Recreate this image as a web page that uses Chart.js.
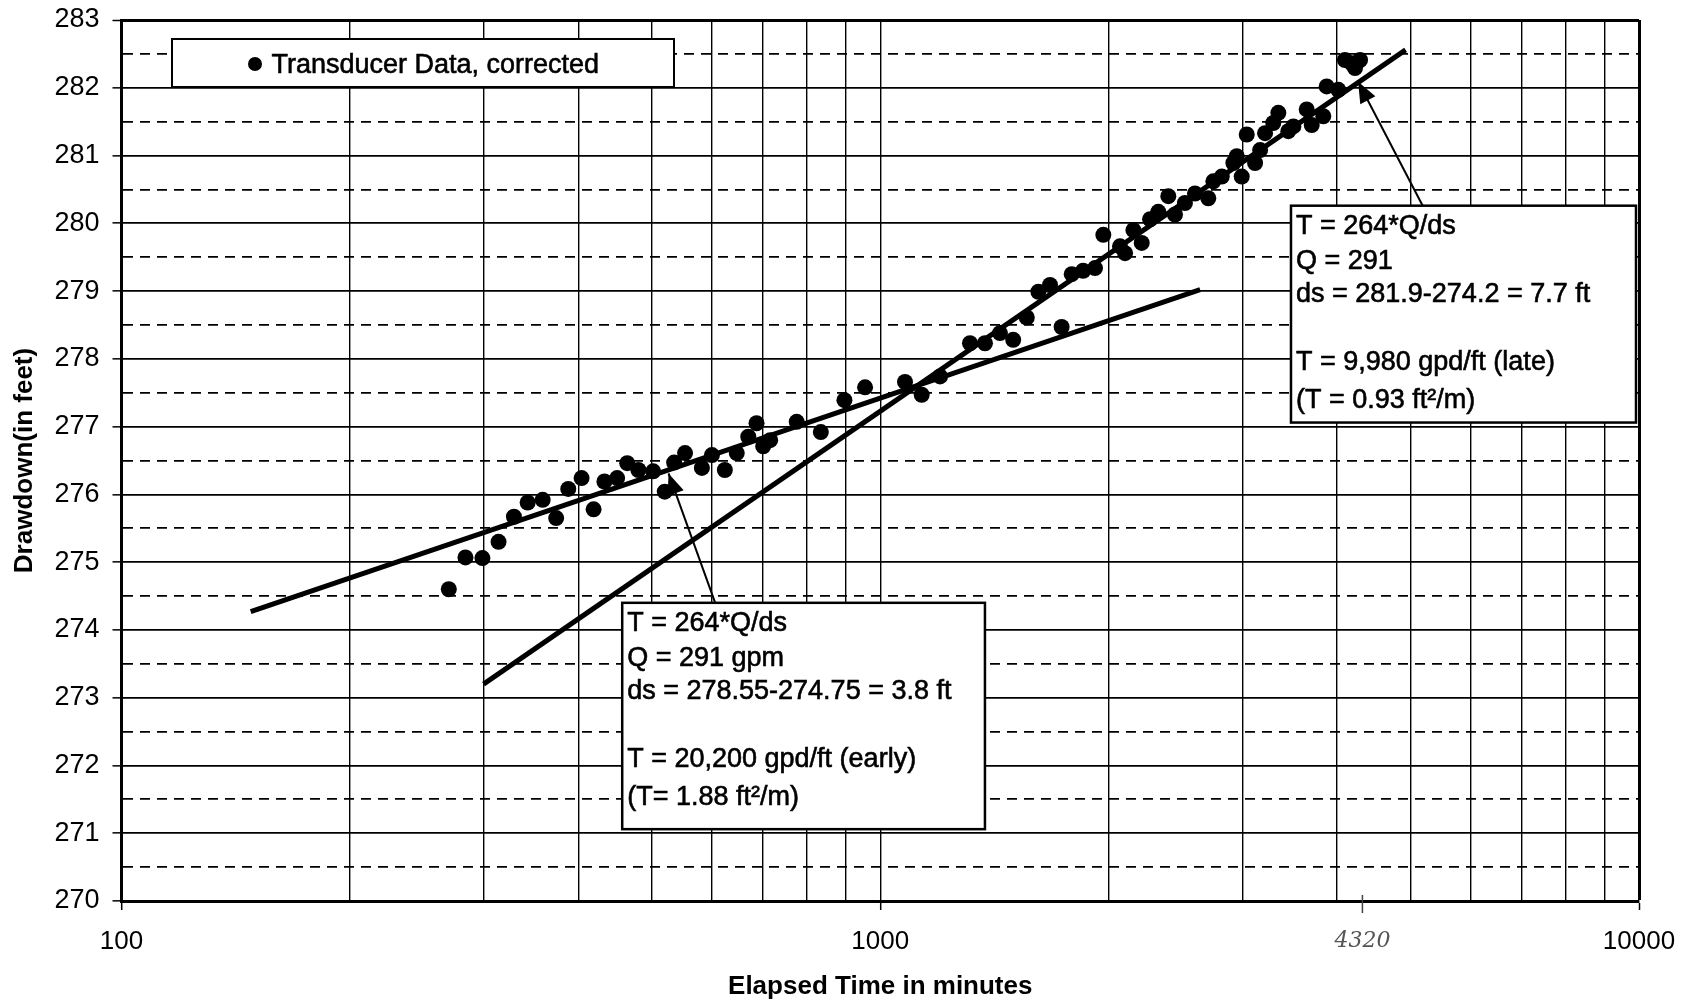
<!DOCTYPE html>
<html>
<head>
<meta charset="utf-8">
<title>Drawdown vs Elapsed Time</title>
<script src="https://cdn.jsdelivr.net/npm/chart.js@4.4.1/dist/chart.umd.min.js"></script>
<style>
  html, body { margin: 0; padding: 0; background: #fff; }
</style>
</head>
<body>
<canvas id="drawdownChart" width="1687" height="1004"></canvas>
<script>
// transducer readings: elapsed time (min) and corrected drawdown (ft)
const elapsedMinutes = [
  270, 284, 299, 314, 329, 343, 359, 374, 388, 404,
  419, 433, 450, 464, 480, 502, 520, 535, 553, 582,
  600, 624, 647, 670, 687, 701, 716, 776, 835, 897,
  955, 1078, 1134, 1199, 1313, 1374, 1438, 1497, 1560, 1616,
  1674, 1734, 1788, 1851, 1919, 1968, 2070, 2102, 2156, 2211,
  2268, 2325, 2397, 2446, 2521, 2599, 2706, 2748, 2819, 2920,
  2950, 2995, 3041, 3119, 3167, 3215, 3296, 3347, 3450, 3503,
  3648, 3704, 3836, 3876, 4015, 4097, 4181, 4224, 4289
];
const drawdownFeet = [
  274.60, 275.07, 275.06, 275.30, 275.67, 275.88, 275.92, 275.65, 276.08, 276.24,
  275.78, 276.19, 276.24, 276.46, 276.36, 276.34, 276.04, 276.47, 276.61, 276.39,
  276.58, 276.36, 276.61, 276.85, 277.05, 276.71, 276.80, 277.07, 276.92, 277.39,
  277.58, 277.66, 277.47, 277.74, 278.23, 278.23, 278.38, 278.28, 278.61, 278.99,
  279.09, 278.47, 279.25, 279.30, 279.34, 279.83, 279.66, 279.56, 279.90, 279.71,
  280.06, 280.17, 280.40, 280.13, 280.30, 280.44, 280.37, 280.62, 280.69, 280.89,
  280.99, 280.69, 281.31, 280.89, 281.08, 281.33, 281.48, 281.63, 281.36, 281.43,
  281.68, 281.45, 281.58, 282.02, 281.97, 282.41, 282.36, 282.29, 282.41
];

// straight-line fits (3.8 ft and 7.7 ft per log cycle)
const earlyFitMinutes = [148, 2640];
const earlyFitFeet = [274.27, 279.02];
const lateFitMinutes = [300, 4925];
const lateFitFeet = [273.20, 282.56];

// log grid lines and labelled decades
const timeTicks = [
  100, 200, 300, 400, 500, 600, 700, 800, 900,
  1000, 2000, 3000, 4000, 5000, 6000, 7000, 8000, 9000, 10000
];
const timeLabels = [100, 1000, 10000];
const markedTime = 4320;

const earlyNote = [
  'T = 264*Q/ds',
  'Q = 291 gpm',
  'ds = 278.55-274.75 = 3.8 ft',
  '',
  'T = 20,200 gpd/ft (early)',
  '(T= 1.88 ft\u00B2/m)'
];
const lateNote = [
  'T = 264*Q/ds',
  'Q = 291',
  'ds = 281.9-274.2 = 7.7 ft',
  '',
  'T = 9,980 gpd/ft (late)',
  '(T = 0.93 ft\u00B2/m)'
];

const FONT = '"Liberation Sans", Arial, Helvetica, sans-serif';
const noteLineOffsets = [21, 56, 89, 123, 157, 195];

function toPoints(xs, ys) {
  return xs.map((x, i) => ({ x: x, y: ys[i] }));
}

// text with a hairline outline so it reads as heavy as the grid
function heavyText(ctx, s, x, y) {
  ctx.fillText(s, x, y);
  ctx.strokeText(s, x, y);
}

function drawArrow(ctx, x0, y0, x1, y1) {
  ctx.lineWidth = 2;
  ctx.beginPath();
  ctx.moveTo(x0, y0);
  ctx.lineTo(x1, y1);
  ctx.stroke();
  const a = Math.atan2(y1 - y0, x1 - x0);
  const len = 21, half = 8.5;
  const bx = x1 - len * Math.cos(a), by = y1 - len * Math.sin(a);
  ctx.beginPath();
  ctx.moveTo(x1, y1);
  ctx.lineTo(bx + half * Math.sin(a), by - half * Math.cos(a));
  ctx.lineTo(bx - half * Math.sin(a), by + half * Math.cos(a));
  ctx.closePath();
  ctx.fill();
}

function drawNote(ctx, xs, ys, box, lines) {
  const l = xs.getPixelForValue(box.from), r = xs.getPixelForValue(box.to);
  const t = ys.getPixelForValue(box.top), b = ys.getPixelForValue(box.bottom);
  ctx.fillStyle = '#fff';
  ctx.fillRect(l, t, r - l, b - t);
  ctx.lineWidth = 2.5;
  ctx.strokeStyle = '#000';
  ctx.strokeRect(l, t, r - l, b - t);
  ctx.fillStyle = '#000';
  ctx.lineWidth = 0.6;
  ctx.font = '27px ' + FONT;
  ctx.textAlign = 'left';
  ctx.textBaseline = 'middle';
  lines.forEach((s, i) => heavyText(ctx, s, l + 5, t + noteLineOffsets[i]));
}

// white page, legend box, text boxes with arrows, pencilled 4320 mark
const notesPlugin = {
  id: 'notes',
  beforeDraw(chart) {
    const ctx = chart.ctx;
    ctx.save();
    ctx.fillStyle = '#fff';
    ctx.fillRect(0, 0, chart.width, chart.height);
    ctx.restore();
  },
  afterDatasetsDraw(chart) {
    const { ctx, chartArea: area, scales: { x, y } } = chart;
    ctx.save();

    // legend
    const lx = area.left + 50.5, ly = area.top + 19, lw = 502, lh = 48;
    ctx.fillStyle = '#fff';
    ctx.fillRect(lx, ly, lw, lh);
    ctx.lineWidth = 2;
    ctx.strokeStyle = '#000';
    ctx.strokeRect(lx, ly, lw, lh);
    ctx.fillStyle = '#000';
    ctx.beginPath();
    ctx.arc(lx + 83, ly + 25, 7, 0, Math.PI * 2);
    ctx.fill();
    ctx.font = '27px ' + FONT;
    ctx.textBaseline = 'middle';
    ctx.lineWidth = 0.6;
    heavyText(ctx, chart.data.datasets[0].label, lx + 99.5, ly + 27);

    drawNote(ctx, x, y, { from: 457, to: 1374, top: 274.40, bottom: 271.06 }, earlyNote);
    drawNote(ctx, x, y, { from: 3478, to: 9909, top: 280.26, bottom: 277.06 }, lateNote);

    ctx.strokeStyle = '#000';
    ctx.fillStyle = '#000';
    drawArrow(ctx, x.getPixelForValue(606), y.getPixelForValue(274.40),
      x.getPixelForValue(526), y.getPixelForValue(276.31));
    drawArrow(ctx, x.getPixelForValue(5187), y.getPixelForValue(280.26),
      x.getPixelForValue(4264), y.getPixelForValue(282.09));

    // hand-written time mark under the axis
    const mx = x.getPixelForValue(markedTime);
    ctx.strokeStyle = '#444';
    ctx.lineWidth = 1.5;
    ctx.beginPath();
    ctx.moveTo(mx, area.bottom - 6);
    ctx.lineTo(mx, area.bottom + 12);
    ctx.stroke();
    ctx.fillStyle = '#555';
    ctx.font = 'italic 22px "DejaVu Serif", serif';
    ctx.textAlign = 'center';
    ctx.fillText(String(markedTime), mx, area.bottom + 40);
    ctx.restore();
  }
};

const isWhole = v => Math.abs(v - Math.round(v)) < 1e-9;

new Chart(document.getElementById('drawdownChart'), {
  type: 'scatter',
  data: {
    datasets: [
      {
        label: 'Transducer Data, corrected',
        data: toPoints(elapsedMinutes, drawdownFeet),
        pointRadius: 8,
        pointBackgroundColor: '#000',
        pointBorderWidth: 0,
        showLine: false
      },
      {
        label: 'early fit',
        data: toPoints(earlyFitMinutes, earlyFitFeet),
        showLine: true,
        borderColor: '#000',
        borderWidth: 5,
        pointRadius: 0
      },
      {
        label: 'late fit',
        data: toPoints(lateFitMinutes, lateFitFeet),
        showLine: true,
        borderColor: '#000',
        borderWidth: 5,
        pointRadius: 0
      }
    ]
  },
  options: {
    responsive: false,
    animation: false,
    layout: { padding: { top: 20, right: 48, left: 0, bottom: 0 } },
    plugins: {
      legend: { display: false },
      tooltip: { enabled: false }
    },
    scales: {
      x: {
        type: 'logarithmic',
        min: 100,
        max: 10000,
        afterBuildTicks: scale => {
          scale.ticks = timeTicks.map(v => ({ value: v }));
        },
        afterFit: scale => {
          scale.height = 103;
          scale.paddingLeft = 0;
          scale.paddingRight = 0;
        },
        ticks: {
          autoSkip: false,
          maxRotation: 0,
          padding: 16,
          color: '#000',
          font: { family: FONT, size: 26 },
          callback: v => (timeLabels.includes(v) ? String(v) : '')
        },
        grid: {
          color: '#000',
          lineWidth: c => (c.tick && c.tick.value === 10000 ? 3 : 1.4),
          tickLength: 9,
          tickWidth: 1.5,
          tickColor: c => (c.tick && timeLabels.includes(c.tick.value) ? '#000' : 'rgba(0,0,0,0)')
        },
        border: { color: '#000', width: 3 },
        title: {
          display: true,
          text: 'Elapsed Time in minutes',
          color: '#000',
          font: { family: FONT, size: 26, weight: 'bold' },
          padding: { top: 0, bottom: 2 }
        }
      },
      y: {
        type: 'linear',
        min: 270,
        max: 283,
        afterFit: scale => {
          scale.width = 121.5;
          scale.paddingTop = 0;
          scale.paddingBottom = 0;
        },
        ticks: {
          stepSize: 0.5,
          autoSkip: false,
          padding: 13,
          color: '#000',
          font: { family: FONT, size: 27 },
          callback: v => (isWhole(v) ? String(v) : '')
        },
        grid: {
          color: '#000',
          lineWidth: c => (c.tick && c.tick.value === 283 ? 3 : 1.7),
          tickLength: 9,
          tickWidth: 1.5,
          tickColor: c => (c.tick && isWhole(c.tick.value) ? '#000' : 'rgba(0,0,0,0)')
        },
        border: {
          color: '#000',
          width: 3,
          dash: c => (c.tick && !isWhole(c.tick.value) ? [10, 7] : [])
        },
        title: {
          display: true,
          text: 'Drawdown(in feet)',
          color: '#000',
          font: { family: FONT, size: 26, weight: 'bold' },
          padding: { top: 9, bottom: 0 }
        }
      }
    }
  },
  plugins: [notesPlugin]
});
</script>
</body>
</html>
